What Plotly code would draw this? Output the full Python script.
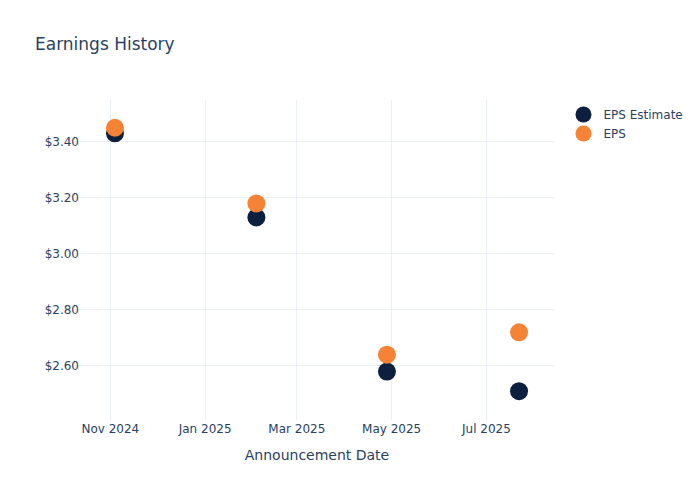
import plotly.graph_objects as go

dates = ["2024-11-04", "2025-02-03", "2025-04-28", "2025-07-22"]
eps_estimate = [3.43, 3.13, 2.58, 2.51]
eps_actual = [3.45, 3.18, 2.64, 2.72]

fig = go.Figure()
fig.add_trace(go.Scatter(x=dates, y=eps_estimate, mode="markers", name="EPS Estimate",
                         marker=dict(color="#0d1f3f", size=18)))
fig.add_trace(go.Scatter(x=dates, y=eps_actual, mode="markers", name="EPS",
                         marker=dict(color="#f58235", size=18)))
fig.update_layout(
    template="plotly_white",
    font=dict(family="DejaVu Sans"),
    title=dict(text="Earnings History"),
    xaxis=dict(title="Announcement Date", dtick="M2", tickformat="%b %Y"),
    yaxis=dict(tickprefix="$", tickformat=".2f", range=[2.407, 3.549]),
    width=700, height=500,
)
fig.write_html("out.html", config={"displayModeBar": False},
               post_script="document.body.style.margin='0';")
